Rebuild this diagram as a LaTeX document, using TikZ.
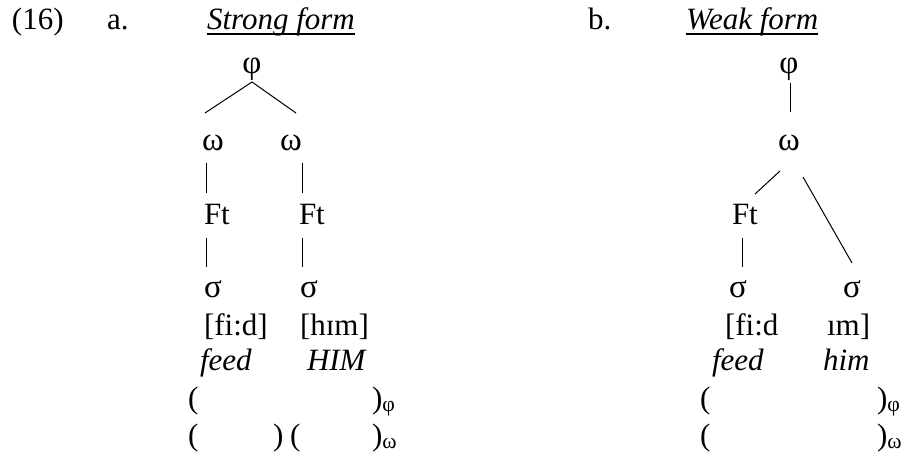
\documentclass[tikz,border=0pt]{standalone}
\usepackage{fontspec}
\setmainfont{Liberation Serif}
\begin{document}
\begin{tikzpicture}[x=1pt,y=-1pt,
  txt/.style={inner sep=0pt,outer sep=0pt,anchor=base west,font=\fontsize{31}{36}\selectfont},
  ctxt/.style={txt,anchor=base},
  grk/.style={font=\fontsize{33}{36}\selectfont},
  branch/.style={line width=1pt},
  uline/.style={line width=1.3pt}]
\useasboundingbox (0,0) rectangle (901,452);
% headings
\node[txt] (n16) at (12,30) {(16)};
\node[txt] (la) at (107,30) {a.};
\node[txt] (ta) at (207,30) {\textit{Strong form}};
\draw[uline] ([shift={(0,4)}]ta.base west) -- ([shift={(0,4)}]ta.base east);
\node[txt] (lb) at (588,30) {b.};
\node[txt] (tb) at (686,30) {\textit{Weak form}};
\draw[uline] ([shift={(0,4)}]tb.base west) -- ([shift={(0,4)}]tb.base east);
% tree a
\node[ctxt,grk] (phiA) at (252,74) {φ};
\node[ctxt,grk] (omA1) at (213,150) {ω};
\node[ctxt,grk] (omA2) at (291,150) {ω};
\node[txt] (ftA1) at (204,224) {Ft};
\node[txt] (ftA2) at (299,224) {Ft};
\node[txt,grk] (sgA1) at (204,297) {σ};
\node[txt,grk] (sgA2) at (300,297) {σ};
\node[txt] (ipaA1) at (204,335) {[fi:d]};
\node[txt] (ipaA2) at (300,335) {[hɪm]};
\node[txt] (feedA) at (200,370) {\textit{feed}};
\node[txt] (himA) at (307,370) {\textit{HIM}};
\node[txt] (pA1) at (188,408) {(};
\node[txt] (pA2) at (372,408) {)\textsubscript{φ}};
\node[txt] (pA3) at (188,445) {(};
\node[txt] (pA4) at (273,445) {)};
\node[txt] (pA5) at (290,445) {(};
\node[txt] (pA6) at (372,445) {)\textsubscript{ω}};
\draw[branch] ([shift={(0,8)}]phiA.base) -- ([shift={(-8,-37)}]omA1.base);
\draw[branch] ([shift={(0,8)}]phiA.base) -- ([shift={(5,-37)}]omA2.base);
\draw[branch] ([shift={(-7,13)}]omA1.base) -- ([shift={(2,-31)}]ftA1.base west);
\draw[branch] ([shift={(11,13)}]omA2.base) -- ([shift={(3,-31)}]ftA2.base west);
\draw[branch] ([shift={(2,14)}]ftA1.base west) -- ([shift={(2,-30)}]sgA1.base west);
\draw[branch] ([shift={(3,14)}]ftA2.base west) -- ([shift={(2,-30)}]sgA2.base west);
% tree b
\node[ctxt,grk] (phiB) at (789,74) {φ};
\node[ctxt,grk] (omB) at (789,150) {ω};
\node[txt] (ftB) at (732,224) {Ft};
\node[ctxt,grk] (sgB1) at (738,297) {σ};
\node[ctxt,grk] (sgB2) at (852,297) {σ};
\node[txt] (ipaB1) at (725,335) {[fi:d};
\node[txt] (ipaB2) at (827,335) {ım]};
\node[txt] (feedB) at (712,370) {\textit{feed}};
\node[txt] (himB) at (823,370) {\textit{him}};
\node[txt] (pB1) at (700,408) {(};
\node[txt] (pB2) at (877,408) {)\textsubscript{φ}};
\node[txt] (pB3) at (700,445) {(};
\node[txt] (pB4) at (877,445) {)\textsubscript{ω}};
\draw[branch] ([shift={(1,9)}]phiB.base) -- ([shift={(1,-38)}]omB.base);
\draw[branch] ([shift={(-9,21)}]omB.base) -- ([shift={(23,-30)}]ftB.base west);
\draw[branch] ([shift={(14,27)}]omB.base) -- ([shift={(0,-34)}]sgB2.base);
\draw[branch] ([shift={(10,14)}]ftB.base west) -- ([shift={(4,-30)}]sgB1.base);
\end{tikzpicture}
\end{document}
